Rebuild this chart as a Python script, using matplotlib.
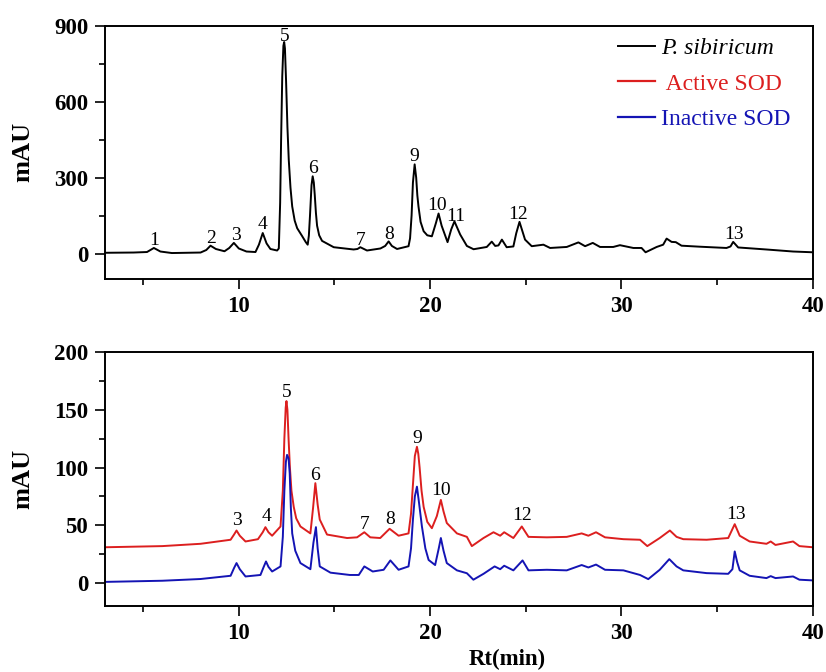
import matplotlib
matplotlib.use('Agg')
import matplotlib.pyplot as plt
from matplotlib.ticker import MultipleLocator

plt.rcParams['font.family'] = ['Liberation Serif', 'DejaVu Serif']

# retention time (min) / absorbance (mAU)
# top panel: P. sibiricum extract
t_ps = [3.0, 4.5, 5.2, 5.56, 5.9, 6.5, 8.0, 8.3, 8.52, 8.8, 9.25, 9.5, 9.74,
        10.0, 10.4, 10.87, 11.05, 11.25, 11.45, 11.65, 12.0, 12.09, 12.16,
        12.21, 12.27, 12.33, 12.37, 12.41, 12.47, 12.54, 12.61, 12.70, 12.79,
        12.92, 13.05, 13.3, 13.5, 13.6, 13.66, 13.72, 13.8, 13.86, 13.92,
        13.97, 14.03, 14.09, 14.2, 14.35, 14.96, 16.0, 16.2, 16.35, 16.7,
        17.4, 17.65, 17.83, 18.0, 18.27, 18.87, 18.95, 19.03, 19.1, 19.19,
        19.27, 19.33, 19.39, 19.5, 19.66, 19.85, 20.09, 20.3, 20.44, 20.6,
        20.91, 21.1, 21.27, 21.57, 21.92, 22.27, 22.96, 23.22, 23.4, 23.57,
        23.75, 24.0, 24.35, 24.5, 24.67, 24.96, 25.31, 25.92, 26.27, 27.14,
        27.75, 28.1, 28.5, 28.88, 29.57, 29.92, 30.62, 31.05, 31.26, 31.84,
        32.18, 32.36, 32.62, 32.84, 33.14, 34.1, 35.49, 35.7, 35.84, 36.1,
        37.58, 38.97, 40.0]
mau_ps = [3, 4, 6, 22, 8, 2, 4, 14, 31, 18, 9, 22, 42,
          20, 8, 6, 35, 81, 40, 18, 12, 20, 200,
          450, 700, 820, 835, 810, 680, 500, 370, 260, 186,
          130, 100, 70, 45, 35, 70, 150, 270, 305, 280,
          230, 160, 110, 72, 50, 25, 16, 18, 25, 12,
          20, 30, 48, 30, 18, 29, 60, 150, 280, 352,
          300, 230, 186, 125, 88, 72, 68, 120, 158, 110,
          45, 95, 127, 75, 30, 17, 26, 47, 30, 32,
          55, 25, 28, 80, 125, 55, 29, 35, 22, 26,
          44, 29, 42, 26, 26, 33, 22, 22, 5, 26,
          35, 59, 46, 45, 31, 27, 22, 28, 46, 24,
          16, 8, 5]

# bottom panel: active SOD
t_act = [3.0, 6.0, 8.0, 9.57, 9.75, 9.88, 10.05, 10.35, 11.0, 11.25, 11.39,
         11.55, 11.74, 12.18, 12.3, 12.38, 12.45, 12.49, 12.54, 12.6, 12.67,
         12.75, 12.87, 13.0, 13.22, 13.74, 13.88, 14.0, 14.12, 14.23, 14.61,
         15.66, 16.18, 16.56, 16.87, 17.39, 17.88, 18.35, 18.87, 19.0, 19.1,
         19.2, 19.31, 19.38, 19.45, 19.55, 19.66, 19.85, 20.09, 20.35, 20.56,
         20.7, 20.87, 21.4, 21.92, 22.18, 22.79, 23.31, 23.66, 23.87, 24.35,
         24.79, 25.14, 26.1, 27.14, 27.92, 28.27, 28.67, 29.14, 30.1, 30.97,
         31.35, 32.0, 32.53, 32.88, 33.23, 34.45, 35.58, 35.92, 36.18, 36.7,
         37.58, 37.8, 38.05, 38.97, 39.3, 40.0]
mau_act = [31, 32, 34, 37.5, 42, 45.5, 41, 36, 38, 44, 48.4,
           44, 41, 49, 80, 125, 152, 157.6, 150, 125, 100,
           80, 66, 56, 49, 43, 65, 86.5, 68, 55, 42,
           39, 39.6, 44, 39.6, 39, 47, 41, 43, 60, 85,
           110, 118, 112, 100, 80, 66, 53, 47.5, 58, 72,
           62, 52, 43, 40, 32, 39, 44, 41, 44, 39,
           49, 40, 39.6, 40, 43, 41, 44, 39.6, 38, 37.5,
           32, 39, 45.5, 40, 38, 37.5, 39, 51, 41, 36,
           34, 36, 33, 36, 32, 31]

# bottom panel: inactive SOD
t_inact = [3.0, 6.0, 8.0, 9.57, 9.75, 9.88, 10.05, 10.35, 11.13, 11.3, 11.42,
           11.55, 11.74, 12.18, 12.3, 12.38, 12.46, 12.52, 12.6, 12.66, 12.72,
           12.79, 12.95, 13.22, 13.74, 13.9, 14.03, 14.12, 14.23, 14.79, 15.8,
           16.27, 16.56, 17.0, 17.57, 17.92, 18.35, 18.87, 19.0, 19.1, 19.2,
           19.31, 19.4, 19.57, 19.75, 19.92, 20.26, 20.45, 20.56, 20.7, 20.87,
           21.4, 21.92, 22.26, 22.79, 23.37, 23.66, 23.87, 24.35, 24.83, 25.14,
           26.1, 27.14, 27.92, 28.27, 28.67, 29.14, 30.1, 30.97, 31.4, 32.0,
           32.5, 32.88, 33.23, 34.45, 35.58, 35.8, 35.92, 36.05, 36.18, 36.7,
           37.58, 37.8, 38.05, 38.97, 39.3, 40.0]
mau_inact = [1, 2, 3.5, 6.3, 13, 17.3, 12, 5.7, 7, 14, 18.7,
             14, 10, 14.4, 40, 80, 105, 111, 108, 95, 65,
             43, 28, 17.3, 12, 35, 48.4, 30, 14.4, 9, 7,
             7, 14.4, 10, 11.5, 19.6, 11.5, 14.4, 30, 55, 75,
             83.5, 72, 49, 30, 20, 15.6, 30, 39, 28, 17.3,
             11, 8.5, 2.9, 8, 14.4, 12, 15, 11, 19.6, 11,
             11.5, 11, 15.6, 13.5, 16, 11.5, 11, 7, 3.4, 11.5,
             20.7, 14.4, 11, 8.6, 8, 12, 27.4, 18, 11, 6.3,
             4.3, 6, 4.3, 5.7, 2.9, 2.3]

# peak numbers
top_peaks = ['1', '2', '3', '4', '5', '6', '7', '8', '9', '10', '11', '12', '13']
top_peak_t = [5.56, 8.56, 9.83, 11.25, 12.38, 13.86, 16.39, 17.83, 19.17,
              20.35, 21.36, 24.61, 35.89]
top_peak_y = [35, 42, 52, 97, 837, 318, 35, 58, 364, 173, 127, 138, 59]

bot_peaks = ['3', '4', '5', '6', '7', '8', '9', '10', '12', '13']
bot_peak_t = [9.92, 11.43, 12.52, 14.0, 16.57, 17.92, 19.31, 20.56, 24.79, 35.97]
bot_peak_y = [50, 54, 161, 89, 47, 51, 121.6, 76, 55, 55.6]

RED = '#dc1f1f'
BLUE = '#1414b4'

fig = plt.figure(figsize=(8.26, 6.72), dpi=100)
ax1 = fig.add_axes([0.127, 0.585, 0.857, 0.377])
ax2 = fig.add_axes([0.127, 0.098, 0.857, 0.378])

ax1.plot(t_ps, mau_ps, color='black', lw=1.4, label='P. sibiricum')
# empty lines so the legend holds all three traces
ax1.plot([], [], color=RED, lw=1.6, label=' Active SOD')
ax1.plot([], [], color=BLUE, lw=1.6, label='Inactive SOD')
for lab, x, y in zip(top_peaks, top_peak_t, top_peak_y):
    ax1.text(x, y, lab, ha='center', va='baseline', fontsize=14)

ax2.plot(t_act, mau_act, color=RED, lw=1.4)
ax2.plot(t_inact, mau_inact, color=BLUE, lw=1.4)
for lab, x, y in zip(bot_peaks, bot_peak_t, bot_peak_y):
    ax2.text(x, y, lab, ha='center', va='baseline', fontsize=14)

ax1.set_ylim(-100, 900)
ax1.yaxis.set_major_locator(MultipleLocator(300))
ax1.yaxis.set_minor_locator(MultipleLocator(150))
ax2.set_ylim(-20, 200)
ax2.yaxis.set_major_locator(MultipleLocator(50))
ax2.yaxis.set_minor_locator(MultipleLocator(25))

for ax in (ax1, ax2):
    ax.set_xlim(3, 40)
    ax.xaxis.set_major_locator(MultipleLocator(10))
    ax.xaxis.set_minor_locator(MultipleLocator(5))
    ax.tick_params(which='both', direction='out', width=1.2)
    ax.tick_params(which='major', length=7, pad=5, labelsize=16.5)
    ax.tick_params(which='minor', length=4)
    for lbl in ax.get_xticklabels() + ax.get_yticklabels():
        lbl.set_fontweight('bold')
    for sp in ax.spines.values():
        sp.set_linewidth(1.4)
    ax.set_ylabel('mAU', fontsize=19, fontweight='bold')
    ax.yaxis.set_label_coords(-0.1, 0.5)

ax2.set_xlabel('Rt(min)', fontsize=16.5, fontweight='bold')
ax2.xaxis.set_label_coords(0.569, -0.17)

leg = ax1.legend(loc='upper right', bbox_to_anchor=(0.982, 0.99),
                 borderaxespad=0, frameon=False, fontsize=17,
                 handlelength=1.57, handletextpad=0.25, labelspacing=0.6)
leg.get_texts()[0].set_fontstyle('italic')
for txt, c in zip(leg.get_texts(), ['black', RED, BLUE]):
    txt.set_color(c)

plt.savefig('out.png', dpi=100)
